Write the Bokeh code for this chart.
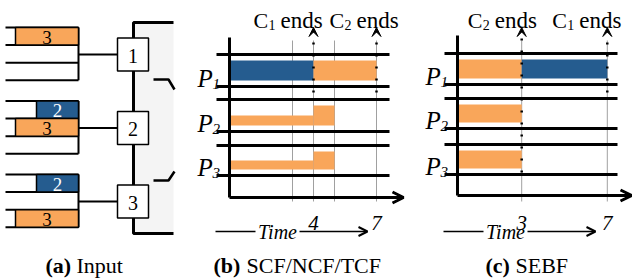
from bokeh.plotting import figure
from bokeh.models import Range1d, Arrow, OpenHead, VeeHead
from bokeh.embed import file_html
from bokeh.resources import INLINE
from bokeh.core.properties import value

ORANGE = "#F9A65A"
BLUE = "#255C8F"
SERIF = "Liberation Serif"
COL = {1: BLUE, 2: ORANGE}

# ---------------- data ----------------
# (a) input: queued flows per ingress port -> (row in port, size, coflow)
a_ports = [1, 2, 3]
a_rows = [[0], [0, 1], [0, 2]]
a_sizes = [[3], [2, 3], [2, 3]]
a_coflow = [[2], [1, 2], [1, 2]]

# (b) SCF/NCF/TCF schedule
b_port = [1, 1, 2, 2, 3, 3]
b_start = [0, 4, 0, 4, 0, 4]
b_end = [4, 7, 4, 5, 4, 5]
b_coflow = [1, 2, 2, 2, 2, 2]
b_rate = [1, 1, 0.5, 1, 0.5, 1]
b_grid = [3, 4, 5, 7]
b_ticks = [4, 7]
b_events = [4, 7]
b_event_names = ["1", "2"]

# (c) SEBF schedule
c_port = [1, 1, 2, 3]
c_start = [0, 3, 0, 0]
c_end = [3, 7, 3, 3]
c_coflow = [2, 1, 2, 2]
c_rate = [1, 1, 1, 1]
c_grid = [3, 7]
c_ticks = [3, 7]
c_events = [3, 7]
c_event_names = ["2", "1"]

# ---------------- figure ----------------
p = figure(width=632, height=278, x_range=Range1d(0, 632), y_range=Range1d(278, 0),
           x_axis_type=None, y_axis_type=None, toolbar_location=None,
           output_backend="svg", min_border=0)
p.outline_line_color = None
p.background_fill_color = "white"
p.border_fill_color = "white"


def txt(x, y, s, size, style="normal", color="black", align="left", baseline="alphabetic"):
    p.text(x=[x], y=[y], text=[s], text_font=value(SERIF), text_font_size=f"{size}px",
           text_font_style=style, text_color=color, text_align=align, text_baseline=baseline)


# ---------------- panel (a) ----------------
Q_RIGHT = 78
UNIT_A = 21
ROW_H = 17.6
group_top = [27, 100.5, 174]
SW_L, SW_R = 117, 148
SPINE_X = 133

# gray fabric area
p.quad(left=[SPINE_X], right=[173], top=[22], bottom=[233], fill_color="#F4F4F4", line_color=None)
# spine
p.line([173, SPINE_X, SPINE_X, 173], [22, 22, 233, 233], line_color="black", line_width=3)
# bracket
p.line([153, 168, 174], [79, 79, 89], line_color="black", line_width=2.5)
p.line([153, 168, 174], [180, 180, 171], line_color="black", line_width=2.5)

for gi, port in enumerate(a_ports):
    y0 = group_top[gi]
    ys = [y0 + k * ROW_H for k in range(4)]
    p.multi_line(xs=[[5, Q_RIGHT]] * 4, ys=[[y, y] for y in ys], line_color="black", line_width=2)
    p.line([Q_RIGHT, Q_RIGHT], [ys[0], ys[3]], line_color="black", line_width=2)
    for r, s, c in zip(a_rows[gi], a_sizes[gi], a_coflow[gi]):
        top = ys[r]
        bot = ys[r + 1]
        p.quad(left=[Q_RIGHT - UNIT_A * s], right=[Q_RIGHT], top=[top], bottom=[bot],
               fill_color=COL[c], line_color="black", line_width=1.5)
        txt(Q_RIGHT - UNIT_A * s / 2, (top + bot) / 2 + 1, str(s), 19,
            color="white" if c == 1 else "black", align="center", baseline="middle")
    yc = y0 + 27
    p.line([Q_RIGHT, SW_L], [yc, yc], line_color="black", line_width=2)
    p.quad(left=[SW_L], right=[SW_R], top=[yc - 16.5], bottom=[yc + 16.5],
           fill_color="white", line_color="black", line_width=1.5)
    txt((SW_L + SW_R) / 2, yc + 1, str(port), 20, align="center", baseline="middle")

CAP_Y = 265
txt(45, CAP_Y, "(a)", 22, style="bold")
txt(76, CAP_Y, "Input", 22)


# ---------------- panels (b) and (c) ----------------
def panel(x0, unit, axis_y, row_top, row_bot, ports, starts, ends, coflows, rates,
          grid, ticks, events, names, name_dx, dot_bottom, cap_left, cap_bold, cap_text, cap_dx):
    X = lambda t: x0 + unit * t
    # gray time grid
    p.multi_line(xs=[[X(t), X(t)] for t in grid], ys=[[40, 201]] * len(grid),
                 line_color="#A0A0A0", line_width=1)
    # bars
    for pt, s, e, c, r in zip(ports, starts, ends, coflows, rates):
        bt = row_top[pt - 1] + 6
        bb = row_bot[pt - 1] - 6
        p.quad(left=[X(s)], right=[X(e)], top=[bb - r * (bb - bt)], bottom=[bb],
               fill_color=COL[c], line_color=None)
    # port row lines
    xs = [[x0 - 13, x0 + 160]] * 6
    yy = []
    for a, b in zip(row_top, row_bot):
        yy += [[a, a], [b, b]]
    p.multi_line(xs=xs, ys=yy, line_color="black", line_width=3)
    # axes
    p.line([x0, x0], [axis_y - 160, axis_y], line_color="black", line_width=3)
    p.add_layout(Arrow(end=OpenHead(size=11, line_width=3, line_color="black"),
                       x_start=x0, y_start=axis_y, x_end=x0 + 174, y_end=axis_y,
                       line_width=3, line_color="black"))
    # port labels
    for i in range(3):
        base = row_bot[i] - 8
        txt(x0 - 32, base, "P", 25, style="italic")
        txt(x0 - 17, base + 5, str(i + 1), 15, style="italic")
    # ticks
    for t in ticks:
        txt(X(t), 222, str(t), 21, style="italic", align="center")
    # event markers
    for t, n, dx, db in zip(events, names, name_dx, dot_bottom):
        p.add_layout(Arrow(end=VeeHead(size=9, fill_color="black", line_color="black", line_width=1),
                           x_start=X(t), y_start=db, x_end=X(t), y_end=27,
                           line_width=2.5, line_dash="2 10", line_color="black"))
        lx = X(t) + dx
        txt(lx, 20, "C", 22)
        txt(lx + 15, 24, n, 14)
        txt(lx + 27, 20, "ends", 23)
    # time arrow
    p.line([x0 - 14, x0 + 26], [231, 231], line_color="black", line_width=1.5)
    p.add_layout(Arrow(end=OpenHead(size=9, line_width=2, line_color="black"),
                       x_start=x0 + 70, y_start=231, x_end=x0 + 138, y_end=231,
                       line_width=1.5, line_color="black"))
    txt(x0 + 48, 231, "Time", 20, style="italic", align="center", baseline="middle")
    # caption
    txt(cap_left, CAP_Y, cap_bold, 22, style="bold")
    txt(cap_left + cap_dx, CAP_Y, cap_text, 22)


panel(229, 21.0, 197, [54, 99, 145], [86, 131, 175], b_port, b_start, b_end, b_coflow, b_rate,
      b_grid, b_ticks, b_events, b_event_names, [-60, -47], [92, 92], 213, "(b)", "SCF/NCF/TCF", 33)
panel(457, 21.4, 195, [53, 98, 144], [84, 128, 174], c_port, c_start, c_end, c_coflow, c_rate,
      c_grid, c_ticks, c_events, c_event_names, [-54, -55], [172, 92], 485, "(c)", "SEBF", 30)

open("out.html", "w").write(file_html(p, INLINE))
